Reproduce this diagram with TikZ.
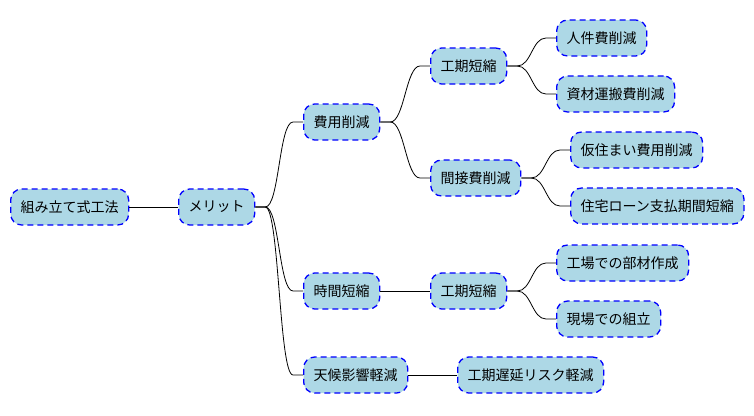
\documentclass[tikz,border=0pt]{standalone}
\usepackage{fontspec}
\setmainfont{Noto Sans CJK JP}
\begin{document}
\begin{tikzpicture}[x=1pt,y=-1pt,
  mm/.style={draw=blue, fill={rgb,255:red,173;green,216;blue,230}, line width=1.3pt,
    dash pattern=on 6pt off 4pt, rounded corners=11pt, minimum height=36pt,
    inner xsep=10pt, inner ysep=0pt, anchor=west, font=\fontsize{14}{16}\selectfont, text=black},
  link/.style={draw=black, line width=0.8pt}
]
\useasboundingbox (0,0) rectangle (754,415);
\node[mm] (root) at (10,207) {組み立て式工法};
\node[mm] (mer) at (178,207) {メリット};
\node[mm] (hiyo) at (303,122) {費用削減};
\node[mm] (koki1) at (430,66) {工期短縮};
\node[mm] (jinken) at (556,38) {人件費削減};
\node[mm] (shizai) at (556,94) {資材運搬費削減};
\node[mm] (kansetsu) at (430,178) {間接費削減};
\node[mm] (karizumai) at (570,150) {仮住まい費用削減};
\node[mm] (loan) at (570,206) {住宅ローン支払期間短縮};
\node[mm] (jikan) at (303,291) {時間短縮};
\node[mm] (koki2) at (430,291) {工期短縮};
\node[mm] (kojo) at (556,263) {工場での部材作成};
\node[mm] (genba) at (556,319) {現場での組立};
\node[mm] (tenko) at (303,375) {天候影響軽減};
\node[mm] (chien) at (457,375) {工期遅延リスク軽減};

\newcommand{\curvelink}[2]{\draw[link] (#1.east) -- ++(10,0) .. controls +(14,0) and +(-14,0) .. ([xshift=-10pt]#2.west) -- (#2.west);}
\draw[link] (root) -- (mer);
\curvelink{mer}{hiyo}
\curvelink{mer}{jikan}
\curvelink{mer}{tenko}
\curvelink{hiyo}{koki1}
\curvelink{hiyo}{kansetsu}
\curvelink{koki1}{jinken}
\curvelink{koki1}{shizai}
\curvelink{kansetsu}{karizumai}
\curvelink{kansetsu}{loan}
\draw[link] (jikan) -- (koki2);
\curvelink{koki2}{kojo}
\curvelink{koki2}{genba}
\draw[link] (tenko) -- (chien);
\end{tikzpicture}
\end{document}
